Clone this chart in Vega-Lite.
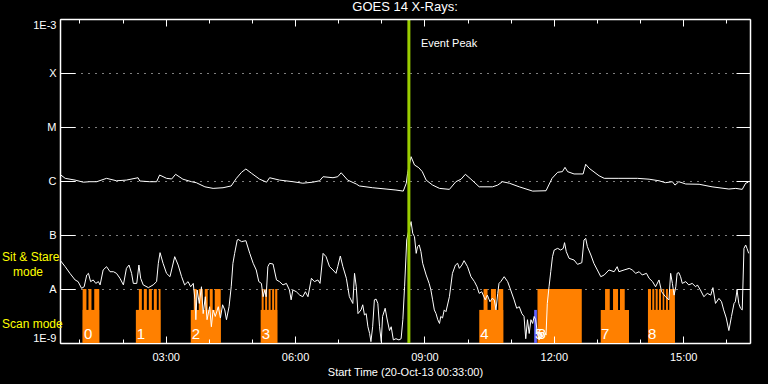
{
  "$schema": "https://vega.github.io/schema/vega-lite/v6.json",
  "width": 690,
  "height": 324,
  "autosize": {"type": "none"},
  "padding": {"left": 60, "top": 19, "right": 18, "bottom": 41},
  "background": "black",
  "title": {"text": "GOES 14 X-Rays:", "color": "white", "font": "Liberation Sans", "fontSize": 13, "fontWeight": "normal", "anchor": "middle", "offset": 4},
  "config": {
    "view": {"stroke": null},
    "axis": {"labelColor": "white", "titleColor": "white", "domainColor": "white", "tickColor": "white", "gridColor": "white", "labelFont": "Liberation Sans", "titleFont": "Liberation Sans", "labelFontSize": 11, "titleFontSize": 11, "titleFontWeight": "normal", "grid": false, "title": null, "domainWidth": 1.5, "tickWidth": 1}
  },
  "resolve": {"axis": {"x": "independent", "y": "independent"}},
  "datasets": {
    "xrays": [
      {"band": "long", "hour": 0.57, "flux": 1.29e-6}, {"band": "long", "hour": 0.67, "flux": 1.12e-6}, {"band": "long", "hour": 0.90, "flux": 1.04e-6}, {"band": "long", "hour": 1.09, "flux": 0.95e-6}, {"band": "long", "hour": 1.24, "flux": 0.97e-6}, {"band": "long", "hour": 1.40, "flux": 0.97e-6}, {"band": "long", "hour": 1.63, "flux": 1.12e-6}, {"band": "long", "hour": 1.86, "flux": 1.01e-6}, {"band": "long", "hour": 2.09, "flux": 1.04e-6}, {"band": "long", "hour": 2.36, "flux": 1.15e-6}, {"band": "long", "hour": 2.40, "flux": 1.00e-6}, {"band": "long", "hour": 2.63, "flux": 0.97e-6}, {"band": "long", "hour": 2.79, "flux": 0.97e-6}, {"band": "long", "hour": 2.86, "flux": 1.29e-6}, {"band": "long", "hour": 3.02, "flux": 1.12e-6}, {"band": "long", "hour": 3.14, "flux": 1.09e-6}, {"band": "long", "hour": 3.23, "flux": 1.33e-6}, {"band": "long", "hour": 3.40, "flux": 1.08e-6}, {"band": "long", "hour": 3.60, "flux": 0.97e-6}, {"band": "long", "hour": 3.71, "flux": 0.93e-6}, {"band": "long", "hour": 3.91, "flux": 0.78e-6}, {"band": "long", "hour": 4.10, "flux": 0.73e-6}, {"band": "long", "hour": 4.33, "flux": 0.75e-6}, {"band": "long", "hour": 4.52, "flux": 0.81e-6}, {"band": "long", "hour": 4.64, "flux": 1.12e-6}, {"band": "long", "hour": 4.76, "flux": 1.45e-6}, {"band": "long", "hour": 4.86, "flux": 1.67e-6}, {"band": "long", "hour": 4.99, "flux": 1.39e-6}, {"band": "long", "hour": 5.18, "flux": 1.08e-6}, {"band": "long", "hour": 5.34, "flux": 0.95e-6}, {"band": "long", "hour": 5.41, "flux": 1.15e-6}, {"band": "long", "hour": 5.64, "flux": 1.04e-6}, {"band": "long", "hour": 5.95, "flux": 0.97e-6}, {"band": "long", "hour": 6.18, "flux": 0.91e-6}, {"band": "long", "hour": 6.41, "flux": 0.95e-6}, {"band": "long", "hour": 6.57, "flux": 1.01e-6}, {"band": "long", "hour": 6.65, "flux": 1.20e-6}, {"band": "long", "hour": 6.88, "flux": 1.15e-6}, {"band": "long", "hour": 6.99, "flux": 1.20e-6}, {"band": "long", "hour": 7.07, "flux": 1.42e-6}, {"band": "long", "hour": 7.22, "flux": 1.04e-6}, {"band": "long", "hour": 7.42, "flux": 0.88e-6}, {"band": "long", "hour": 7.49, "flux": 0.81e-6}, {"band": "long", "hour": 7.80, "flux": 0.75e-6}, {"band": "long", "hour": 8.11, "flux": 0.71e-6}, {"band": "long", "hour": 8.34, "flux": 0.68e-6}, {"band": "long", "hour": 8.51, "flux": 0.65e-6}, {"band": "long", "hour": 8.58, "flux": 0.91e-6}, {"band": "long", "hour": 8.61, "flux": 1.39e-6}, {"band": "long", "hour": 8.69, "flux": 2.82e-6}, {"band": "long", "hour": 8.77, "flux": 1.98e-6}, {"band": "long", "hour": 8.87, "flux": 1.76e-6}, {"band": "long", "hour": 8.95, "flux": 1.49e-6}, {"band": "long", "hour": 9.04, "flux": 1.04e-6}, {"band": "long", "hour": 9.19, "flux": 0.84e-6}, {"band": "long", "hour": 9.35, "flux": 0.73e-6}, {"band": "long", "hour": 9.58, "flux": 0.70e-6}, {"band": "long", "hour": 9.73, "flux": 0.97e-6}, {"band": "long", "hour": 9.85, "flux": 1.08e-6}, {"band": "long", "hour": 9.95, "flux": 1.33e-6}, {"band": "long", "hour": 10.08, "flux": 1.08e-6}, {"band": "long", "hour": 10.27, "flux": 0.78e-6}, {"band": "long", "hour": 10.58, "flux": 0.78e-6}, {"band": "long", "hour": 10.70, "flux": 0.84e-6}, {"band": "long", "hour": 10.81, "flux": 0.97e-6}, {"band": "long", "hour": 10.97, "flux": 0.91e-6}, {"band": "long", "hour": 11.20, "flux": 0.78e-6}, {"band": "long", "hour": 11.51, "flux": 0.65e-6}, {"band": "long", "hour": 11.82, "flux": 0.66e-6}, {"band": "long", "hour": 11.96, "flux": 1.12e-6}, {"band": "long", "hour": 12.09, "flux": 1.45e-6}, {"band": "long", "hour": 12.20, "flux": 1.49e-6}, {"band": "long", "hour": 12.26, "flux": 1.79e-6}, {"band": "long", "hour": 12.32, "flux": 1.49e-6}, {"band": "long", "hour": 12.47, "flux": 1.35e-6}, {"band": "long", "hour": 12.68, "flux": 1.35e-6}, {"band": "long", "hour": 12.74, "flux": 2.04e-6}, {"band": "long", "hour": 12.82, "flux": 1.72e-6}, {"band": "long", "hour": 13.05, "flux": 1.25e-6}, {"band": "long", "hour": 13.17, "flux": 1.12e-6}, {"band": "long", "hour": 13.51, "flux": 1.12e-6}, {"band": "long", "hour": 13.94, "flux": 1.12e-6}, {"band": "long", "hour": 14.21, "flux": 1.08e-6}, {"band": "long", "hour": 14.44, "flux": 1.01e-6}, {"band": "long", "hour": 14.59, "flux": 0.93e-6}, {"band": "long", "hour": 14.75, "flux": 0.97e-6}, {"band": "long", "hour": 14.81, "flux": 0.84e-6}, {"band": "long", "hour": 14.90, "flux": 0.97e-6}, {"band": "long", "hour": 15.06, "flux": 0.88e-6}, {"band": "long", "hour": 15.37, "flux": 0.87e-6}, {"band": "long", "hour": 15.67, "flux": 0.78e-6}, {"band": "long", "hour": 16.06, "flux": 0.71e-6}, {"band": "long", "hour": 16.22, "flux": 0.73e-6}, {"band": "long", "hour": 16.37, "flux": 0.70e-6}, {"band": "long", "hour": 16.45, "flux": 0.91e-6}, {"band": "long", "hour": 16.51, "flux": 0.95e-6},
      {"band": "short", "hour": 0.55, "flux": 3.44e-8}, {"band": "short", "hour": 0.67, "flux": 2.59e-8}, {"band": "short", "hour": 0.78, "flux": 1.95e-8}, {"band": "short", "hour": 0.90, "flux": 1.47e-8}, {"band": "short", "hour": 0.97, "flux": 1.37e-8}, {"band": "short", "hour": 1.05, "flux": 1.03e-8}, {"band": "short", "hour": 1.11, "flux": 1.10e-8}, {"band": "short", "hour": 1.17, "flux": 1.82e-8}, {"band": "short", "hour": 1.21, "flux": 1.95e-8}, {"band": "short", "hour": 1.26, "flux": 1.37e-8}, {"band": "short", "hour": 1.32, "flux": 1.47e-8}, {"band": "short", "hour": 1.38, "flux": 1.27e-8}, {"band": "short", "hour": 1.44, "flux": 1.37e-8}, {"band": "short", "hour": 1.48, "flux": 1.19e-8}, {"band": "short", "hour": 1.55, "flux": 2.25e-8}, {"band": "short", "hour": 1.63, "flux": 2.59e-8}, {"band": "short", "hour": 1.71, "flux": 2.09e-8}, {"band": "short", "hour": 1.79, "flux": 2.09e-8}, {"band": "short", "hour": 1.86, "flux": 1.95e-8}, {"band": "short", "hour": 1.94, "flux": 1.58e-8}, {"band": "short", "hour": 2.02, "flux": 1.19e-8}, {"band": "short", "hour": 2.09, "flux": 2.41e-8}, {"band": "short", "hour": 2.15, "flux": 2.78e-8}, {"band": "short", "hour": 2.21, "flux": 1.95e-8}, {"band": "short", "hour": 2.25, "flux": 1.27e-8}, {"band": "short", "hour": 2.33, "flux": 1.27e-8}, {"band": "short", "hour": 2.38, "flux": 2.78e-8}, {"band": "short", "hour": 2.42, "flux": 1.58e-8}, {"band": "short", "hour": 2.48, "flux": 1.19e-8}, {"band": "short", "hour": 2.60, "flux": 1.06e-8}, {"band": "short", "hour": 2.71, "flux": 1.19e-8}, {"band": "short", "hour": 2.79, "flux": 1.37e-8}, {"band": "short", "hour": 2.83, "flux": 2.99e-8}, {"band": "short", "hour": 2.87, "flux": 4.71e-8}, {"band": "short", "hour": 2.94, "flux": 2.99e-8}, {"band": "short", "hour": 3.02, "flux": 1.95e-8}, {"band": "short", "hour": 3.10, "flux": 1.69e-8}, {"band": "short", "hour": 3.21, "flux": 3.97e-8}, {"band": "short", "hour": 3.29, "flux": 2.78e-8}, {"band": "short", "hour": 3.37, "flux": 1.69e-8}, {"band": "short", "hour": 3.44, "flux": 1.19e-8}, {"band": "short", "hour": 3.52, "flux": 1.37e-8}, {"band": "short", "hour": 3.58, "flux": 1.10e-8}, {"band": "short", "hour": 3.64, "flux": 1.27e-8}, {"band": "short", "hour": 3.68, "flux": 0.63e-8}, {"band": "short", "hour": 3.70, "flux": 0.27e-8}, {"band": "short", "hour": 3.73, "flux": 0.96e-8}, {"band": "short", "hour": 3.78, "flux": 0.54e-8}, {"band": "short", "hour": 3.83, "flux": 1.10e-8}, {"band": "short", "hour": 3.87, "flux": 0.35e-8}, {"band": "short", "hour": 3.92, "flux": 0.72e-8}, {"band": "short", "hour": 3.96, "flux": 0.27e-8}, {"band": "short", "hour": 4.02, "flux": 0.47e-8}, {"band": "short", "hour": 4.06, "flux": 0.20e-8}, {"band": "short", "hour": 4.10, "flux": 0.41e-8}, {"band": "short", "hour": 4.15, "flux": 0.31e-8}, {"band": "short", "hour": 4.22, "flux": 0.47e-8}, {"band": "short", "hour": 4.27, "flux": 0.29e-8}, {"band": "short", "hour": 4.32, "flux": 0.51e-8}, {"band": "short", "hour": 4.37, "flux": 0.41e-8}, {"band": "short", "hour": 4.41, "flux": 0.27e-8}, {"band": "short", "hour": 4.47, "flux": 0.47e-8}, {"band": "short", "hour": 4.52, "flux": 1.10e-8}, {"band": "short", "hour": 4.56, "flux": 2.99e-8}, {"band": "short", "hour": 4.60, "flux": 4.57e-8}, {"band": "short", "hour": 4.66, "flux": 8.08e-8}, {"band": "short", "hour": 4.68, "flux": 8.31e-8}, {"band": "short", "hour": 4.76, "flux": 7.53e-8}, {"band": "short", "hour": 4.86, "flux": 7.85e-8}, {"band": "short", "hour": 4.95, "flux": 4.57e-8}, {"band": "short", "hour": 5.03, "flux": 2.99e-8}, {"band": "short", "hour": 5.10, "flux": 2.25e-8}, {"band": "short", "hour": 5.16, "flux": 1.37e-8}, {"band": "short", "hour": 5.22, "flux": 1.27e-8}, {"band": "short", "hour": 5.26, "flux": 0.72e-8}, {"band": "short", "hour": 5.30, "flux": 0.96e-8}, {"band": "short", "hour": 5.33, "flux": 0.72e-8}, {"band": "short", "hour": 5.37, "flux": 2.59e-8}, {"band": "short", "hour": 5.41, "flux": 2.99e-8}, {"band": "short", "hour": 5.49, "flux": 2.90e-8}, {"band": "short", "hour": 5.57, "flux": 1.47e-8}, {"band": "short", "hour": 5.64, "flux": 1.37e-8}, {"band": "short", "hour": 5.72, "flux": 1.19e-8}, {"band": "short", "hour": 5.80, "flux": 1.27e-8}, {"band": "short", "hour": 5.87, "flux": 0.96e-8}, {"band": "short", "hour": 5.91, "flux": 0.63e-8}, {"band": "short", "hour": 5.95, "flux": 0.96e-8}, {"band": "short", "hour": 6.03, "flux": 0.89e-8}, {"band": "short", "hour": 6.11, "flux": 0.77e-8}, {"band": "short", "hour": 6.18, "flux": 0.72e-8}, {"band": "short", "hour": 6.24, "flux": 0.89e-8}, {"band": "short", "hour": 6.30, "flux": 0.72e-8}, {"band": "short", "hour": 6.38, "flux": 1.58e-8}, {"band": "short", "hour": 6.45, "flux": 1.37e-8}, {"band": "short", "hour": 6.53, "flux": 1.47e-8}, {"band": "short", "hour": 6.58, "flux": 1.27e-8}, {"band": "short", "hour": 6.65, "flux": 4.57e-8}, {"band": "short", "hour": 6.72, "flux": 3.97e-8}, {"band": "short", "hour": 6.80, "flux": 2.59e-8}, {"band": "short", "hour": 6.88, "flux": 2.25e-8}, {"band": "short", "hour": 6.95, "flux": 1.95e-8}, {"band": "short", "hour": 6.99, "flux": 2.59e-8}, {"band": "short", "hour": 7.05, "flux": 4.08e-8}, {"band": "short", "hour": 7.11, "flux": 2.59e-8}, {"band": "short", "hour": 7.19, "flux": 1.58e-8}, {"band": "short", "hour": 7.26, "flux": 0.72e-8}, {"band": "short", "hour": 7.34, "flux": 0.54e-8}, {"band": "short", "hour": 7.38, "flux": 1.95e-8}, {"band": "short", "hour": 7.42, "flux": 1.10e-8}, {"band": "short", "hour": 7.46, "flux": 0.35e-8}, {"band": "short", "hour": 7.53, "flux": 0.41e-8}, {"band": "short", "hour": 7.57, "flux": 0.51e-8}, {"band": "short", "hour": 7.61, "flux": 0.33e-8}, {"band": "short", "hour": 7.65, "flux": 0.35e-8}, {"band": "short", "hour": 7.69, "flux": 0.20e-8}, {"band": "short", "hour": 7.73, "flux": 0.15e-8}, {"band": "short", "hour": 7.76, "flux": 0.106e-8}, {"band": "short", "hour": 7.80, "flux": 0.20e-8}, {"band": "short", "hour": 7.84, "flux": 0.63e-8}, {"band": "short", "hour": 7.88, "flux": 0.65e-8}, {"band": "short", "hour": 7.92, "flux": 0.54e-8}, {"band": "short", "hour": 7.96, "flux": 0.20e-8}, {"band": "short", "hour": 8.00, "flux": 0.106e-8}, {"band": "short", "hour": 8.03, "flux": 0.31e-8}, {"band": "short", "hour": 8.09, "flux": 0.44e-8}, {"band": "short", "hour": 8.13, "flux": 0.29e-8}, {"band": "short", "hour": 8.19, "flux": 0.17e-8}, {"band": "short", "hour": 8.23, "flux": 0.20e-8}, {"band": "short", "hour": 8.28, "flux": 0.114e-8}, {"band": "short", "hour": 8.34, "flux": 0.12e-8}, {"band": "short", "hour": 8.41, "flux": 0.114e-8}, {"band": "short", "hour": 8.46, "flux": 0.12e-8}, {"band": "short", "hour": 8.50, "flux": 0.27e-8}, {"band": "short", "hour": 8.54, "flux": 1.10e-8}, {"band": "short", "hour": 8.59, "flux": 8.08e-8}, {"band": "short", "hour": 8.64, "flux": 12.4e-8}, {"band": "short", "hour": 8.69, "flux": 17.7e-8}, {"band": "short", "hour": 8.73, "flux": 10.7e-8}, {"band": "short", "hour": 8.77, "flux": 9.31e-8}, {"band": "short", "hour": 8.81, "flux": 4.57e-8}, {"band": "short", "hour": 8.84, "flux": 6.08e-8}, {"band": "short", "hour": 8.88, "flux": 6.53e-8}, {"band": "short", "hour": 8.92, "flux": 4.91e-8}, {"band": "short", "hour": 8.96, "flux": 2.99e-8}, {"band": "short", "hour": 9.04, "flux": 1.82e-8}, {"band": "short", "hour": 9.11, "flux": 1.27e-8}, {"band": "short", "hour": 9.15, "flux": 0.96e-8}, {"band": "short", "hour": 9.19, "flux": 0.63e-8}, {"band": "short", "hour": 9.23, "flux": 0.41e-8}, {"band": "short", "hour": 9.27, "flux": 0.35e-8}, {"band": "short", "hour": 9.31, "flux": 0.27e-8}, {"band": "short", "hour": 9.35, "flux": 0.23e-8}, {"band": "short", "hour": 9.38, "flux": 0.31e-8}, {"band": "short", "hour": 9.42, "flux": 0.29e-8}, {"band": "short", "hour": 9.46, "flux": 0.41e-8}, {"band": "short", "hour": 9.50, "flux": 0.38e-8}, {"band": "short", "hour": 9.58, "flux": 0.72e-8}, {"band": "short", "hour": 9.65, "flux": 1.95e-8}, {"band": "short", "hour": 9.72, "flux": 2.78e-8}, {"band": "short", "hour": 9.77, "flux": 2.99e-8}, {"band": "short", "hour": 9.81, "flux": 2.41e-8}, {"band": "short", "hour": 9.87, "flux": 2.78e-8}, {"band": "short", "hour": 9.92, "flux": 3.35e-8}, {"band": "short", "hour": 10.00, "flux": 2.59e-8}, {"band": "short", "hour": 10.08, "flux": 1.69e-8}, {"band": "short", "hour": 10.16, "flux": 1.37e-8}, {"band": "short", "hour": 10.22, "flux": 1.10e-8}, {"band": "short", "hour": 10.27, "flux": 0.83e-8}, {"band": "short", "hour": 10.33, "flux": 0.89e-8}, {"band": "short", "hour": 10.41, "flux": 0.63e-8}, {"band": "short", "hour": 10.46, "flux": 0.77e-8}, {"band": "short", "hour": 10.52, "flux": 0.58e-8}, {"band": "short", "hour": 10.57, "flux": 0.67e-8}, {"band": "short", "hour": 10.62, "flux": 0.63e-8}, {"band": "short", "hour": 10.66, "flux": 0.41e-8}, {"band": "short", "hour": 10.70, "flux": 0.83e-8}, {"band": "short", "hour": 10.73, "flux": 1.27e-8}, {"band": "short", "hour": 10.77, "flux": 1.37e-8}, {"band": "short", "hour": 10.85, "flux": 1.69e-8}, {"band": "short", "hour": 10.93, "flux": 1.37e-8}, {"band": "short", "hour": 11.00, "flux": 0.96e-8}, {"band": "short", "hour": 11.08, "flux": 0.63e-8}, {"band": "short", "hour": 11.14, "flux": 0.44e-8}, {"band": "short", "hour": 11.20, "flux": 0.47e-8}, {"band": "short", "hour": 11.26, "flux": 0.35e-8}, {"band": "short", "hour": 11.31, "flux": 0.31e-8}, {"band": "short", "hour": 11.35, "flux": 0.12e-8}, {"band": "short", "hour": 11.39, "flux": 0.27e-8}, {"band": "short", "hour": 11.43, "flux": 0.15e-8}, {"band": "short", "hour": 11.47, "flux": 0.27e-8}, {"band": "short", "hour": 11.51, "flux": 0.23e-8}, {"band": "short", "hour": 11.545, "flux": 0.31e-8}, {"band": "short", "hour": 11.58, "flux": 0.27e-8}, {"band": "short", "hour": 11.62, "flux": 0.15e-8}, {"band": "short", "hour": 11.66, "flux": 0.114e-8}, {"band": "short", "hour": 11.70, "flux": 0.15e-8}, {"band": "short", "hour": 11.74, "flux": 0.13e-8}, {"band": "short", "hour": 11.78, "flux": 0.17e-8}, {"band": "short", "hour": 11.82, "flux": 0.14e-8}, {"band": "short", "hour": 11.85, "flux": 0.54e-8}, {"band": "short", "hour": 11.89, "flux": 1.10e-8}, {"band": "short", "hour": 11.93, "flux": 2.09e-8}, {"band": "short", "hour": 11.97, "flux": 3.97e-8}, {"band": "short", "hour": 12.01, "flux": 5.27e-8}, {"band": "short", "hour": 12.09, "flux": 5.66e-8}, {"band": "short", "hour": 12.16, "flux": 5.27e-8}, {"band": "short", "hour": 12.22, "flux": 5.66e-8}, {"band": "short", "hour": 12.25, "flux": 7.21e-8}, {"band": "short", "hour": 12.29, "flux": 4.91e-8}, {"band": "short", "hour": 12.355, "flux": 3.70e-8}, {"band": "short", "hour": 12.47, "flux": 3.44e-8}, {"band": "short", "hour": 12.55, "flux": 2.86e-8}, {"band": "short", "hour": 12.65, "flux": 3.07e-8}, {"band": "short", "hour": 12.70, "flux": 8.08e-8}, {"band": "short", "hour": 12.74, "flux": 8.67e-8}, {"band": "short", "hour": 12.78, "flux": 6.08e-8}, {"band": "short", "hour": 12.86, "flux": 4.26e-8}, {"band": "short", "hour": 12.93, "flux": 2.99e-8}, {"band": "short", "hour": 13.01, "flux": 2.25e-8}, {"band": "short", "hour": 13.09, "flux": 1.69e-8}, {"band": "short", "hour": 13.17, "flux": 1.82e-8}, {"band": "short", "hour": 13.28, "flux": 2.25e-8}, {"band": "short", "hour": 13.40, "flux": 2.09e-8}, {"band": "short", "hour": 13.47, "flux": 2.59e-8}, {"band": "short", "hour": 13.51, "flux": 2.09e-8}, {"band": "short", "hour": 13.63, "flux": 2.25e-8}, {"band": "short", "hour": 13.75, "flux": 2.41e-8}, {"band": "short", "hour": 13.82, "flux": 2.25e-8}, {"band": "short", "hour": 13.90, "flux": 1.95e-8}, {"band": "short", "hour": 13.98, "flux": 2.09e-8}, {"band": "short", "hour": 14.05, "flux": 1.82e-8}, {"band": "short", "hour": 14.15, "flux": 1.95e-8}, {"band": "short", "hour": 14.21, "flux": 1.58e-8}, {"band": "short", "hour": 14.29, "flux": 1.37e-8}, {"band": "short", "hour": 14.36, "flux": 1.10e-8}, {"band": "short", "hour": 14.44, "flux": 1.47e-8}, {"band": "short", "hour": 14.50, "flux": 0.89e-8}, {"band": "short", "hour": 14.59, "flux": 0.72e-8}, {"band": "short", "hour": 14.67, "flux": 0.63e-8}, {"band": "short", "hour": 14.71, "flux": 1.95e-8}, {"band": "short", "hour": 14.75, "flux": 1.27e-8}, {"band": "short", "hour": 14.79, "flux": 0.77e-8}, {"band": "short", "hour": 14.83, "flux": 1.10e-8}, {"band": "short", "hour": 14.86, "flux": 1.95e-8}, {"band": "short", "hour": 14.90, "flux": 2.01e-8}, {"band": "short", "hour": 14.94, "flux": 1.69e-8}, {"band": "short", "hour": 14.98, "flux": 1.27e-8}, {"band": "short", "hour": 15.06, "flux": 1.37e-8}, {"band": "short", "hour": 15.13, "flux": 1.19e-8}, {"band": "short", "hour": 15.21, "flux": 1.27e-8}, {"band": "short", "hour": 15.29, "flux": 1.10e-8}, {"band": "short", "hour": 15.33, "flux": 1.19e-8}, {"band": "short", "hour": 15.40, "flux": 0.96e-8}, {"band": "short", "hour": 15.48, "flux": 0.72e-8}, {"band": "short", "hour": 15.56, "flux": 0.83e-8}, {"band": "short", "hour": 15.64, "flux": 0.77e-8}, {"band": "short", "hour": 15.69, "flux": 1.06e-8}, {"band": "short", "hour": 15.75, "flux": 0.54e-8}, {"band": "short", "hour": 15.83, "flux": 0.67e-8}, {"band": "short", "hour": 15.89, "flux": 0.58e-8}, {"band": "short", "hour": 15.94, "flux": 0.41e-8}, {"band": "short", "hour": 16.00, "flux": 0.29e-8}, {"band": "short", "hour": 16.06, "flux": 0.17e-8}, {"band": "short", "hour": 16.12, "flux": 0.31e-8}, {"band": "short", "hour": 16.18, "flux": 0.54e-8}, {"band": "short", "hour": 16.21, "flux": 0.58e-8}, {"band": "short", "hour": 16.25, "flux": 0.96e-8}, {"band": "short", "hour": 16.29, "flux": 0.54e-8}, {"band": "short", "hour": 16.33, "flux": 0.44e-8}, {"band": "short", "hour": 16.37, "flux": 0.41e-8}, {"band": "short", "hour": 16.41, "flux": 5.66e-8}, {"band": "short", "hour": 16.45, "flux": 6.53e-8}, {"band": "short", "hour": 16.48, "flux": 5.66e-8}, {"band": "short", "hour": 16.52, "flux": 4.57e-8}
    ],
    "scans": [
      {"mode": "scan", "start": 1.075, "end": 1.46, "level": 4.1e-9},
      {"mode": "scan", "start": 2.309, "end": 2.881, "level": 4.1e-9},
      {"mode": "scan", "start": 3.582, "end": 4.277, "level": 4.1e-9},
      {"mode": "scan", "start": 5.203, "end": 5.589, "level": 4.1e-9},
      {"mode": "scan", "start": 10.272, "end": 10.828, "level": 4.1e-9},
      {"mode": "scan", "start": 13.089, "end": 13.744, "level": 4.1e-9},
      {"mode": "scan", "start": 14.184, "end": 14.809, "level": 4.1e-9},
      {"mode": "scan", "start": 11.622, "end": 12.649, "level": 1e-8},
      {"mode": "scan", "start": 1.075, "end": 1.163, "level": 1e-8},
      {"mode": "scan", "start": 1.21, "end": 1.28, "level": 1e-8},
      {"mode": "scan", "start": 1.344, "end": 1.46, "level": 1e-8},
      {"mode": "scan", "start": 2.379, "end": 2.448, "level": 1e-8},
      {"mode": "scan", "start": 2.494, "end": 2.564, "level": 1e-8},
      {"mode": "scan", "start": 2.61, "end": 2.68, "level": 1e-8},
      {"mode": "scan", "start": 2.726, "end": 2.795, "level": 1e-8},
      {"mode": "scan", "start": 2.84, "end": 2.881, "level": 1e-8},
      {"mode": "scan", "start": 3.652, "end": 3.721, "level": 1e-8},
      {"mode": "scan", "start": 3.768, "end": 3.86, "level": 1e-8},
      {"mode": "scan", "start": 3.907, "end": 3.976, "level": 1e-8},
      {"mode": "scan", "start": 4.022, "end": 4.091, "level": 1e-8},
      {"mode": "scan", "start": 4.138, "end": 4.277, "level": 1e-8},
      {"mode": "scan", "start": 5.226, "end": 5.272, "level": 1e-8},
      {"mode": "scan", "start": 5.307, "end": 5.353, "level": 1e-8},
      {"mode": "scan", "start": 5.388, "end": 5.434, "level": 1e-8},
      {"mode": "scan", "start": 5.469, "end": 5.516, "level": 1e-8},
      {"mode": "scan", "start": 5.539, "end": 5.589, "level": 1e-8},
      {"mode": "scan", "start": 10.372, "end": 10.464, "level": 1e-8},
      {"mode": "scan", "start": 10.543, "end": 10.659, "level": 1e-8},
      {"mode": "scan", "start": 10.712, "end": 10.828, "level": 1e-8},
      {"mode": "scan", "start": 13.189, "end": 13.298, "level": 1e-8},
      {"mode": "scan", "start": 13.374, "end": 13.49, "level": 1e-8},
      {"mode": "scan", "start": 13.536, "end": 13.645, "level": 1e-8},
      {"mode": "scan", "start": 14.184, "end": 14.254, "level": 1e-8},
      {"mode": "scan", "start": 14.284, "end": 14.33, "level": 1e-8},
      {"mode": "scan", "start": 14.363, "end": 14.409, "level": 1e-8},
      {"mode": "scan", "start": 14.439, "end": 14.486, "level": 1e-8},
      {"mode": "scan", "start": 14.525, "end": 14.562, "level": 1e-8},
      {"mode": "scan", "start": 14.601, "end": 14.647, "level": 1e-8},
      {"mode": "scan", "start": 14.677, "end": 14.809, "level": 1e-8},
      {"mode": "stare", "start": 11.545, "end": 11.608, "level": 4.1e-9}
    ],
    "scanLabels": [
      {"hour": 1.106, "label": "0"}, {"hour": 2.33, "label": "1"}, {"hour": 3.606, "label": "2"}, {"hour": 5.226, "label": "3"}, {"hour": 10.295, "label": "4"}, {"hour": 11.56, "label": "5"}, {"hour": 11.62, "label": "6"}, {"hour": 13.096, "label": "7"}, {"hour": 14.184, "label": "8"}
    ],
    "events": [{"hour": 8.64, "label": "Event Peak"}],
    "modes": [
      {"hour": -0.795, "flux": 3.30e-8, "text": "Sit & Stare"},
      {"hour": -0.54, "flux": 1.74e-8, "text": "mode"},
      {"hour": -0.795, "flux": 1.87e-9, "text": "Scan mode"}
    ]
  },
  "layer": [
    {
      "data": {"name": "scans"},
      "transform": [{"filter": "datum.mode == 'scan'"}],
      "mark": {"type": "rect", "color": "#FF8000"},
      "encoding": {
        "x": {"field": "start", "type": "quantitative", "scale": {"domain": [0.55, 16.55], "nice": false, "zero": false},
          "axis": {"orient": "bottom", "values": [3, 6, 9, 12, 15], "labelExpr": "(datum.value < 10 ? '0' : '') + datum.value + ':00'", "ticks": false, "tickSize": 0, "domain": true, "labelPadding": 8, "title": "Start Time (20-Oct-13 00:33:00)", "titlePadding": 4}},
        "x2": {"field": "end"},
        "y": {"field": "level", "type": "quantitative", "scale": {"type": "log", "domain": [1e-9, 1e-3], "nice": false},
          "axis": {"orient": "left", "values": [1e-9, 1e-8, 1e-7, 1e-6, 1e-5, 1e-4, 1e-3], "labelExpr": "['1E-9','A','B','C','M','X','1E-3'][round(log(datum.value)/LN10)+9]", "ticks": false, "tickSize": 0, "labelPadding": 4, "labelFlush": true, "grid": true, "gridDash": [1, 6], "gridColor": "white", "domain": true, "title": null}},
        "y2": {"datum": 1e-9}
      }
    },
    {
      "data": {"name": "scans"},
      "transform": [{"filter": "datum.mode == 'stare'"}],
      "mark": {"type": "rect", "color": "#6464FF"},
      "encoding": {
        "x": {"field": "start", "type": "quantitative", "scale": {"domain": [0.55, 16.55], "nice": false, "zero": false},
          "axis": {"orient": "bottom", "values": [3, 6, 9, 12, 15], "labels": false, "domain": false, "tickSize": -7, "zindex": 1, "title": null}},
        "x2": {"field": "end"},
        "y": {"field": "level", "type": "quantitative", "scale": {"type": "log", "domain": [1e-9, 1e-3], "nice": false},
          "axis": {"orient": "left", "values": [1e-9, 1e-8, 1e-7, 1e-6, 1e-5, 1e-4, 1e-3], "labels": false, "domain": false, "tickSize": -15, "zindex": 1, "title": null}},
        "y2": {"datum": 1e-9}
      }
    },
    {
      "data": {"name": "scanLabels"},
      "mark": {"type": "text", "color": "white", "font": "Liberation Sans", "fontSize": 15, "align": "left", "baseline": "alphabetic"},
      "encoding": {
        "x": {"field": "hour", "type": "quantitative", "scale": {"domain": [0.55, 16.55], "nice": false, "zero": false},
          "axis": {"orient": "bottom", "values": [1, 2, 4, 5, 7, 8, 10, 11, 13, 14, 16], "labels": false, "domain": false, "tickSize": -4, "zindex": 1, "title": null}},
        "y": {"datum": 1.19e-9, "type": "quantitative", "scale": {"type": "log", "domain": [1e-9, 1e-3], "nice": false},
          "axis": {"orient": "right", "values": [1e-9, 1e-8, 1e-7, 1e-6, 1e-5, 1e-4, 1e-3], "labels": false, "domain": true, "tickSize": -14, "zindex": 1, "title": null}},
        "text": {"field": "label"}
      }
    },
    {
      "data": {"name": "xrays"},
      "mark": {"type": "line", "color": "white", "strokeWidth": 1, "interpolate": "linear"},
      "encoding": {
        "x": {"field": "hour", "type": "quantitative", "scale": {"domain": [0.55, 16.55], "nice": false, "zero": false},
          "axis": {"orient": "top", "values": [3, 6, 9, 12, 15], "labels": false, "domain": true, "tickSize": -7, "zindex": 1, "title": null}},
        "y": {"field": "flux", "type": "quantitative", "scale": {"type": "log", "domain": [1e-9, 1e-3], "nice": false}, "axis": null},
        "detail": {"field": "band"}
      }
    },
    {
      "data": {"name": "events"},
      "mark": {"type": "rule", "color": "#9ACD00", "strokeWidth": 3},
      "encoding": {
        "x": {"field": "hour", "type": "quantitative", "scale": {"domain": [0.55, 16.55], "nice": false, "zero": false},
          "axis": {"orient": "top", "values": [1, 2, 4, 5, 7, 8, 10, 11, 13, 14, 16], "labels": false, "domain": false, "tickSize": -4, "zindex": 1, "title": null}}
      }
    },
    {
      "data": {"name": "events"},
      "mark": {"type": "text", "color": "white", "font": "Liberation Sans", "fontSize": 11, "align": "left", "baseline": "alphabetic", "dx": 12},
      "encoding": {
        "x": {"field": "hour", "type": "quantitative", "scale": {"domain": [0.55, 16.55], "nice": false, "zero": false}, "axis": null},
        "y": {"datum": 3.03e-4, "type": "quantitative", "scale": {"type": "log", "domain": [1e-9, 1e-3], "nice": false}, "axis": null},
        "text": {"field": "label"}
      }
    },
    {
      "data": {"name": "modes"},
      "mark": {"type": "text", "color": "#FFFF00", "font": "Liberation Sans", "fontSize": 12, "align": "left", "baseline": "alphabetic"},
      "encoding": {
        "x": {"field": "hour", "type": "quantitative", "scale": {"domain": [0.55, 16.55], "nice": false, "zero": false}, "axis": null},
        "y": {"field": "flux", "type": "quantitative", "scale": {"type": "log", "domain": [1e-9, 1e-3], "nice": false}, "axis": null},
        "text": {"field": "text"}
      }
    }
  ]
}
